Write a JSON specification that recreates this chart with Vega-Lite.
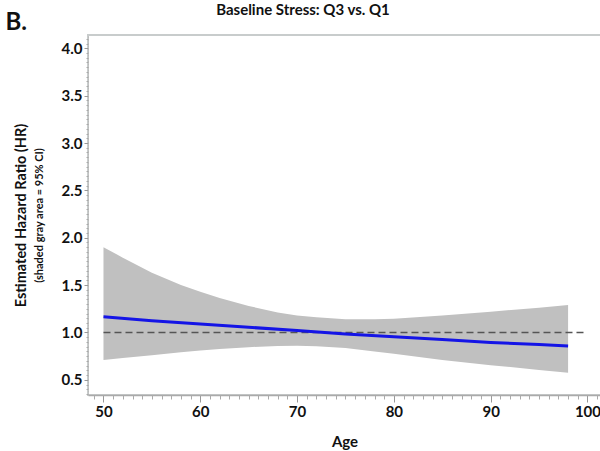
{
  "$schema": "https://vega.github.io/schema/vega-lite/v6.json",
  "autosize": {"type": "fit", "contains": "padding"},
  "width": 600,
  "height": 451,
  "padding": {"left": 5, "right": -1, "top": 3, "bottom": 2},
  "background": "white",
  "title": {
    "text": "Baseline Stress: Q3 vs. Q1",
    "anchor": "middle",
    "frame": "bounds",
    "font": "Lato",
    "fontSize": 15,
    "fontWeight": "bold",
    "color": "#111",
    "offset": -8
  },
  "datasets": {
    "band": [
      {"age": 50, "lo": 0.71, "hi": 1.90},
      {"age": 52, "lo": 0.73, "hi": 1.79},
      {"age": 55, "lo": 0.76, "hi": 1.63},
      {"age": 58, "lo": 0.79, "hi": 1.50},
      {"age": 60, "lo": 0.81, "hi": 1.43},
      {"age": 62, "lo": 0.825, "hi": 1.365},
      {"age": 65, "lo": 0.845, "hi": 1.28},
      {"age": 68, "lo": 0.858, "hi": 1.21},
      {"age": 70, "lo": 0.86, "hi": 1.18},
      {"age": 72, "lo": 0.855, "hi": 1.16},
      {"age": 75, "lo": 0.835, "hi": 1.14},
      {"age": 78, "lo": 0.80, "hi": 1.14},
      {"age": 80, "lo": 0.775, "hi": 1.145},
      {"age": 85, "lo": 0.71, "hi": 1.18},
      {"age": 90, "lo": 0.655, "hi": 1.22},
      {"age": 95, "lo": 0.605, "hi": 1.26},
      {"age": 98, "lo": 0.575, "hi": 1.29}
    ],
    "line": [
      {"age": 50, "hr": 1.165},
      {"age": 55, "hr": 1.125},
      {"age": 60, "hr": 1.09},
      {"age": 65, "hr": 1.055},
      {"age": 70, "hr": 1.02},
      {"age": 75, "hr": 0.985},
      {"age": 80, "hr": 0.955},
      {"age": 85, "hr": 0.925},
      {"age": 90, "hr": 0.895},
      {"age": 95, "hr": 0.872},
      {"age": 98, "hr": 0.858}
    ],
    "ref": [{"age": 50, "age2": 100, "hr": 1}]
  },
  "layer": [
    {
      "data": {"name": "band"},
      "mark": {"type": "area", "color": "#c0c0c0", "opacity": 1},
      "encoding": {
        "x": {
          "field": "age", "type": "quantitative",
          "scale": {"domain": [48.4, 101.4], "nice": false, "zero": false},
          "axis": {
            "orient": "bottom",
            "values": [50, 60, 70, 80, 90, 100],
            "title": "Age",
            "grid": false,
            "tickSize": 7,
            "tickColor": "#999",
            "domainColor": "#aaa",
            "domainWidth": 1.5,
            "labelPadding": 2,
            "labelFont": "Lato", "labelFontSize": 15, "labelFontWeight": "bold", "labelColor": "#111",
            "titleFont": "Lato", "titleFontSize": 15, "titleFontWeight": "bold", "titleColor": "#111",
            "titlePadding": 15
          }
        },
        "y": {
          "field": "lo", "type": "quantitative",
          "scale": {"domain": [0.34, 4.14], "nice": false, "zero": false},
          "axis": {
            "orient": "left",
            "values": [0.5, 1, 1.5, 2, 2.5, 3, 3.5, 4],
            "format": ".1f",
            "title": "Estimated Hazard Ratio (HR)",
            "grid": false,
            "tickSize": 4,
            "tickColor": "#999",
            "domainColor": "#bbb",
            "domainDash": [2, 1],
            "labelPadding": 2,
            "labelFont": "Lato", "labelFontSize": 15, "labelFontWeight": "bold", "labelColor": "#111",
            "titleFont": "Lato", "titleFontSize": 14.5, "titleFontWeight": "bold", "titleColor": "#111",
            "titlePadding": 33
          }
        },
        "y2": {"field": "hi"}
      }
    },
    {
      "data": {"name": "ref"},
      "mark": {"type": "rule", "color": "#555", "strokeWidth": 1.5, "strokeDash": [7, 4]},
      "encoding": {
        "x": {
          "field": "age", "type": "quantitative",
          "scale": {"domain": [48.4, 101.4], "nice": false, "zero": false},
          "axis": {
            "orient": "bottom",
            "values": [49, 51, 52, 53, 54, 55, 56, 57, 58, 59, 61, 62, 63, 64, 65, 66, 67, 68, 69, 71, 72, 73, 74, 75, 76, 77, 78, 79, 81, 82, 83, 84, 85, 86, 87, 88, 89, 91, 92, 93, 94, 95, 96, 97, 98, 99, 101],
            "labels": false,
            "domain": false,
            "grid": false,
            "title": null,
            "tickSize": 4,
            "tickColor": "#aaa"
          }
        },
        "x2": {"field": "age2"},
        "y": {
          "field": "hr", "type": "quantitative",
          "scale": {"domain": [0.34, 4.14], "nice": false, "zero": false},
          "axis": {
            "orient": "left",
            "values": [0.35, 0.4, 0.45, 0.55, 0.6, 0.65, 0.7, 0.75, 0.8, 0.85, 0.9, 0.95, 1.05, 1.1, 1.15, 1.2, 1.25, 1.3, 1.35, 1.4, 1.45, 1.55, 1.6, 1.65, 1.7, 1.75, 1.8, 1.85, 1.9, 1.95, 2.05, 2.1, 2.15, 2.2, 2.25, 2.3, 2.35, 2.4, 2.45, 2.55, 2.6, 2.65, 2.7, 2.75, 2.8, 2.85, 2.9, 2.95, 3.05, 3.1, 3.15, 3.2, 3.25, 3.3, 3.35, 3.4, 3.45, 3.55, 3.6, 3.65, 3.7, 3.75, 3.8, 3.85, 3.9, 3.95, 4.05, 4.1],
            "labels": false,
            "domain": false,
            "grid": false,
            "tickSize": 2,
            "tickColor": "#aaa",
            "title": "(shaded gray area = 95% CI)",
            "titleFont": "Lato", "titleFontSize": 11, "titleFontWeight": "bold", "titleColor": "#111",
            "titlePadding": 41
          }
        }
      }
    },
    {
      "data": {"name": "line"},
      "mark": {"type": "line", "color": "#1414e6", "strokeWidth": 3},
      "encoding": {
        "x": {
          "field": "age", "type": "quantitative",
          "scale": {"domain": [48.4, 101.4], "nice": false, "zero": false},
          "axis": {
            "orient": "top",
            "labels": false,
            "ticks": false,
            "domain": false,
            "grid": false,
            "title": "B.",
            "titleFont": "Lato", "titleFontSize": 24, "titleFontWeight": "bold", "titleColor": "#111",
            "titleAlign": "left",
            "titleBaseline": "alphabetic",
            "titleX": -83,
            "titleY": -6
          }
        },
        "y": {
          "field": "hr", "type": "quantitative",
          "scale": {"domain": [0.34, 4.14], "nice": false, "zero": false},
          "axis": null
        }
      }
    }
  ],
  "resolve": {"axis": {"x": "independent", "y": "independent"}},
  "config": {
    "view": {"stroke": "#c8cccc", "strokeWidth": 2}
  }
}
